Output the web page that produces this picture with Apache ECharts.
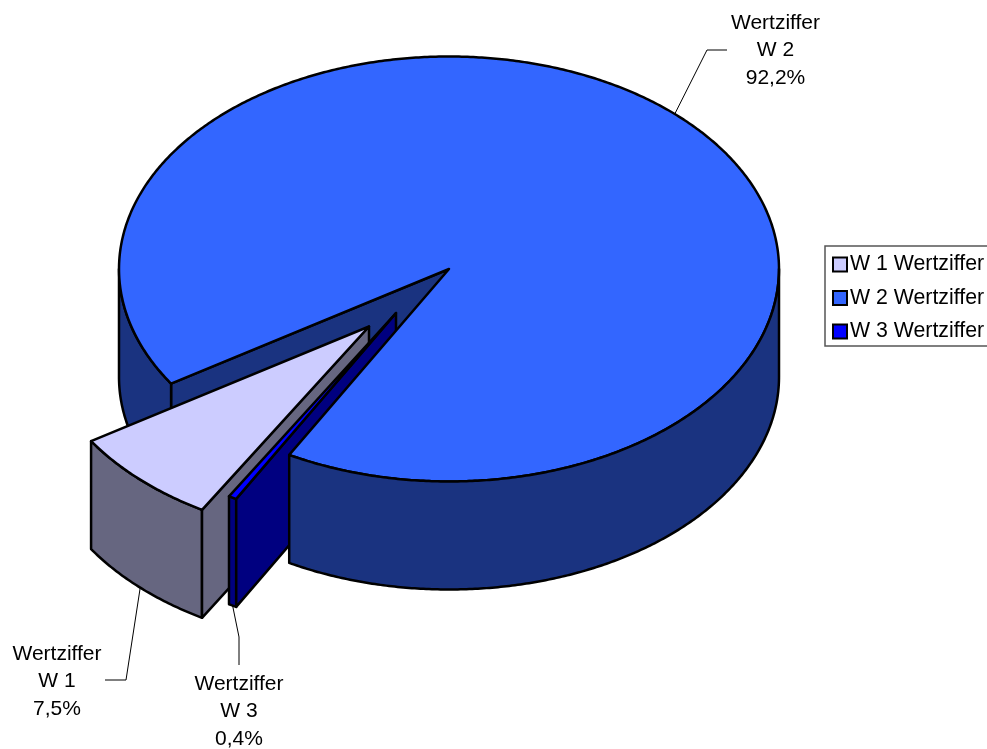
<!DOCTYPE html>
<html>
<head>
<meta charset="utf-8">
<style>html,body{margin:0;padding:0;background:#fff;overflow:hidden}#c{width:987px;height:749px}</style>
<script src="https://cdn.jsdelivr.net/npm/echarts@6/dist/echarts.min.js"></script>
</head>
<body>
<div id="c"></div>
<script>
// ---- data ----
const categories = ['W 1', 'W 2', 'W 3'];
const values = [7.5, 92.2, 0.4];
const seriesLabel = 'Wertziffer';
const topColors = ['#CCCCFF', '#3366FF', '#0000FF'];
const sideColors = ['#666680', '#1A3380', '#000080'];

// ---- layout of the projected pie ----
const cx = 449, cy = 269, rx = 330, ry = 212.5, depth = 108;
const firstAngle = 120.4;                    // screen degrees, clockwise from east
const pull = [[-80, 57.5], [0, 0], [-53, 44]];  // exploded offset per slice
const labelLayout = [
  {x: 57, y: 654, elbow: [126, 680], end: [105, 680]},
  {x: 775.5, y: 23, elbow: [707, 50], end: [727, 50]},
  {x: 239, y: 684, elbow: [239, 637], end: [239, 665]}
];
const lineGap = 27.5;

const total = values.reduce((a, b) => a + b, 0);
const spans = values.map(v => v / total * 360);
const starts = spans.map((_, i) => firstAngle + spans.slice(0, i).reduce((a, b) => a + b, 0));

function pt(i, deg, low) {
  const a = deg * Math.PI / 180;
  return [cx + pull[i][0] + rx * Math.cos(a), cy + pull[i][1] + ry * Math.sin(a) + (low ? depth : 0)];
}
function arc(i, from, to, low) {
  const n = Math.max(2, Math.ceil(Math.abs(to - from) * 2));
  const out = [];
  for (let k = 0; k <= n; k++) out.push(pt(i, from + (to - from) * k / n, low));
  return out;
}
function apex(i, low) {
  return [cx + pull[i][0], cy + pull[i][1] + (low ? depth : 0)];
}
function poly(points, fill) {
  return {type: 'polygon', shape: {points},
    style: {fill, stroke: '#000', lineWidth: 2.5, lineJoin: 'round'}};
}
function outerFace(i, from, to) {
  return poly(arc(i, from, to, false).concat(arc(i, from, to, true).reverse()), sideColors[i]);
}
function wallFace(i, deg) {
  return poly([apex(i, false), pt(i, deg, false), pt(i, deg, true), apex(i, true)], sideColors[i]);
}
function topFace(i, from, to) {
  return poly([apex(i, false)].concat(arc(i, from, to, false)), topColors[i]);
}
// pieces: what each layer of a slice draws, using the angle scale from the values
const layers = {
  w2back(i) { const s = starts[i]; return [wallFace(i, s), outerFace(i, s, 180)]; },
  w2front(i) { const s = starts[i], e = s + spans[i]; return [topFace(i, s, e), outerFace(i, 360, e)]; },
  slice(i) { const s = starts[i], e = s + spans[i]; return [outerFace(i, s, e), wallFace(i, s), topFace(i, s, e)]; }
};
function makeSeries(i, layer, z) {
  return {
    type: 'custom', name: categories[i] + ' ' + seriesLabel, coordinateSystem: 'none', z,
    itemStyle: {color: topColors[i]}, silent: true, clip: false,
    data: [[values[i]]],
    renderItem: () => ({type: 'group', children: layers[layer](i)})
  };
}

// leader lines and labels
const graphics = [];
categories.forEach((c, i) => {
  const mid = starts[i] + spans[i] / 2;
  const front = ((mid % 360) + 360) % 360 < 180;
  const L = labelLayout[i];
  graphics.push({type: 'polyline', z: 20, silent: true,
    shape: {points: [pt(i, mid, front), L.elbow, L.end]},
    style: {stroke: '#000', lineWidth: 1, fill: null}});
  [seriesLabel, c, values[i].toFixed(1).replace('.', ',') + '%'].forEach((t, k) => {
    graphics.push({type: 'text', z: 20, silent: true, x: L.x, y: L.y + k * lineGap,
      style: {text: t, fill: '#000', font: '21px "Liberation Sans"', align: 'center', verticalAlign: 'middle'}});
  });
});

const chart = echarts.init(document.getElementById('c'), null, {renderer: 'canvas'});
chart.setOption({
  animation: false,
  backgroundColor: '#fff',
  legend: {
    left: 825, top: 246, orient: 'vertical',
    data: categories.map(c => c + ' ' + seriesLabel),
    icon: 'rect', itemWidth: 14, itemHeight: 14, itemGap: 12.5,
    padding: [8, 8, 4, 7],
    borderColor: '#555', borderWidth: 1.5, selectedMode: false,
    itemStyle: {borderColor: '#000', borderWidth: 2},
    textStyle: {color: '#000', fontFamily: 'Liberation Sans', fontSize: 21.3, padding: [0, 0, 0, -2]}
  },
  graphic: graphics,
  series: [makeSeries(1, 'w2back', 1), makeSeries(0, 'slice', 2), makeSeries(2, 'slice', 3), makeSeries(1, 'w2front', 4)]
});
</script>
</body>
</html>
